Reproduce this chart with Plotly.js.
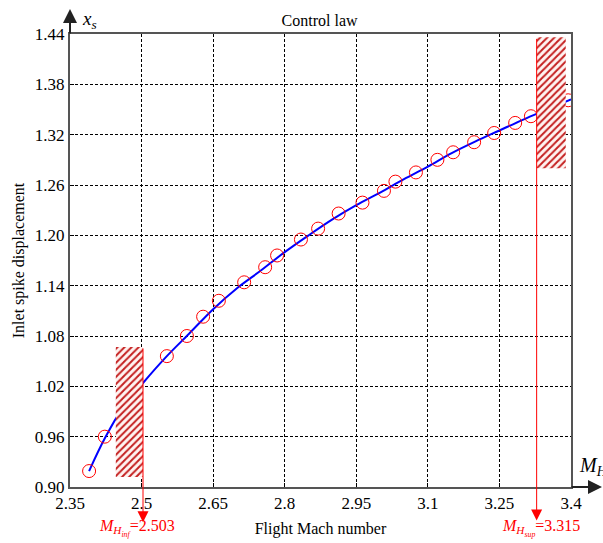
<!DOCTYPE html>
<html>
<head>
<meta charset="utf-8">
<script src="https://cdn.plot.ly/plotly-3.0.1.min.js"></script>
<style>html,body{margin:0;padding:0;background:#fff;}#chart{width:603px;height:543px;}</style>
</head>
<body>
<div id="chart"></div>
<script>
// Measured points (circles)
const machPoints = [2.390, 2.423, 2.553, 2.595, 2.629, 2.662, 2.715, 2.759, 2.784, 2.834, 2.870, 2.913, 2.963, 3.008, 3.032, 3.075, 3.120, 3.153, 3.197, 3.239, 3.283, 3.316, 3.394];
const spikePoints = [0.919, 0.960, 1.056, 1.080, 1.103, 1.122, 1.144, 1.162, 1.176, 1.195, 1.208, 1.226, 1.239, 1.253, 1.264, 1.275, 1.290, 1.299, 1.311, 1.322, 1.334, 1.342, 1.361];
// Control law curve
const machCurve = [2.390, 2.423, 2.460, 2.503, 2.553, 2.600, 2.650, 2.700, 2.750, 2.800, 2.850, 2.900, 2.950, 3.000, 3.050, 3.100, 3.150, 3.200, 3.250, 3.300, 3.350, 3.400];
const spikeCurve = [0.919, 0.958, 0.994, 1.024, 1.056, 1.083, 1.112, 1.137, 1.158, 1.180, 1.200, 1.219, 1.236, 1.251, 1.267, 1.282, 1.298, 1.312, 1.325, 1.338, 1.350, 1.362];
// Mach limits and forbidden zones
const machInf = 2.503;
const machSup = 3.315;
const zoneInfX = [2.446, 2.503];
const zoneInfY = [0.912, 1.067];
const zoneSupX = [3.328, 3.389];
const zoneSupY = [1.280, 1.436];
const supLineX = 3.328;
const xTicks = [2.35, 2.5, 2.65, 2.8, 2.95, 3.1, 3.25, 3.4];
const yTicks = [0.90, 0.96, 1.02, 1.08, 1.14, 1.20, 1.26, 1.32, 1.38, 1.44];

const red = '#ff0000';
const pattern = {shape: '/', fgcolor: '#c42020', bgcolor: '#fff4f2', size: 5, solidity: 0.4};
function rect(xs, ys) {
  return {x: [xs[0], xs[1], xs[1], xs[0], xs[0]], y: [ys[0], ys[0], ys[1], ys[1], ys[0]]};
}
const rInf = rect(zoneInfX, zoneInfY);
const rSup = rect(zoneSupX, zoneSupY);

const traces = [
  {x: machCurve, y: spikeCurve, mode: 'lines', line: {color: '#0000ff', width: 2, shape: 'spline'}, hoverinfo: 'skip'},
  {x: machPoints, y: spikePoints, mode: 'markers', marker: {symbol: 'circle-open', size: 13, color: red, line: {width: 1, color: red}}},
  {x: rInf.x, y: rInf.y, mode: 'lines', line: {width: 0, color: 'rgba(0,0,0,0)'}, fill: 'toself', fillcolor: '#fff4f2', fillpattern: pattern},
  {x: rSup.x, y: rSup.y, mode: 'lines', line: {width: 0, color: 'rgba(0,0,0,0)'}, fill: 'toself', fillcolor: '#fff4f2', fillpattern: pattern}
];

const fam = 'Liberation Serif, Times New Roman, serif';
const font = {family: fam, color: '#000', size: 16};
const tickFont = {family: fam, color: '#000', size: 17};
const layout = {
  width: 603, height: 543,
  margin: {l: 70, r: 32, t: 34, b: 56},
  paper_bgcolor: '#fff', plot_bgcolor: '#fff',
  showlegend: false,
  font: font,
  title: {text: 'Control law', font: {family: fam, size: 16, color: '#000'}, x: 0.53, xanchor: 'center', y: 0.962, yanchor: 'middle'},
  xaxis: {
    range: [2.35, 3.4], tickvals: xTicks, ticktext: xTicks.map(String),
    showgrid: true, gridcolor: '#000', griddash: '3px,2px', gridwidth: 1,
    showline: true, linecolor: '#555', linewidth: 2, mirror: true,
    ticks: 'inside', ticklen: 4, tickcolor: '#000', zeroline: false,
    tickfont: tickFont,
    title: {text: 'Flight Mach number', font: font, standoff: 10}
  },
  yaxis: {
    range: [0.90, 1.44], tickvals: yTicks, ticktext: yTicks.map(v => v.toFixed(2)),
    showgrid: true, gridcolor: '#000', griddash: '3px,2px', gridwidth: 1,
    showline: true, linecolor: '#555', linewidth: 2, mirror: true,
    ticks: 'inside', ticklen: 4, tickcolor: '#000', zeroline: false,
    tickfont: tickFont,
    title: {text: 'Inlet spike displacement', font: font, standoff: 6}
  },
  annotations: [
    // red limit arrows
    {x: machInf, y: 0.858, ax: machInf, ay: zoneInfY[1], xref: 'x', yref: 'y', axref: 'x', ayref: 'y', text: '', showarrow: true, arrowhead: 2, arrowsize: 2.2, arrowwidth: 1, arrowcolor: red},
    {x: supLineX, y: 0.860, ax: supLineX, ay: zoneSupY[1], xref: 'x', yref: 'y', axref: 'x', ayref: 'y', text: '', showarrow: true, arrowhead: 2, arrowsize: 2.2, arrowwidth: 1, arrowcolor: red},
    // limit labels
    {x: machInf - 0.012, y: -0.09, xref: 'x', yref: 'paper', text: '<i>M</i><sub><i>H<sub>inf</sub></i></sub>=' + machInf.toFixed(3), showarrow: false, font: {family: fam, size: 16, color: red}, xanchor: 'center', yanchor: 'middle'},
    {x: machSup + 0.022, y: -0.09, xref: 'x', yref: 'paper', text: '<i>M</i><sub><i>H<sub>sup</sub></i></sub>=' + machSup.toFixed(3), showarrow: false, font: {family: fam, size: 16, color: red}, xanchor: 'center', yanchor: 'middle'},
    // axis arrows
    {x: 1.066, y: 0, xref: 'paper', yref: 'paper', ax: -34, ay: 0, text: '', showarrow: true, arrowhead: 2, arrowsize: 1.4, arrowwidth: 2, arrowcolor: '#222'},
    {x: 0, y: 1.055, xref: 'paper', yref: 'paper', ax: 0, ay: 26, text: '', showarrow: true, arrowhead: 2, arrowsize: 1.4, arrowwidth: 2, arrowcolor: '#222'},
    // axis symbols
    {x: 0.02, y: 1.03, xref: 'paper', yref: 'paper', text: '<i>x<sub>s</sub></i>', showarrow: false, xanchor: 'left', yanchor: 'middle', font: {family: fam, size: 19, color: '#000'}},
    {x: 1.012, y: 0.045, xref: 'paper', yref: 'paper', text: '<i>M<sub>H</sub></i>', showarrow: false, xanchor: 'left', yanchor: 'middle', font: {family: fam, size: 20, color: '#000'}}
  ]
};
Plotly.newPlot('chart', traces, layout, {displayModeBar: false, staticPlot: true});
</script>
</body>
</html>
